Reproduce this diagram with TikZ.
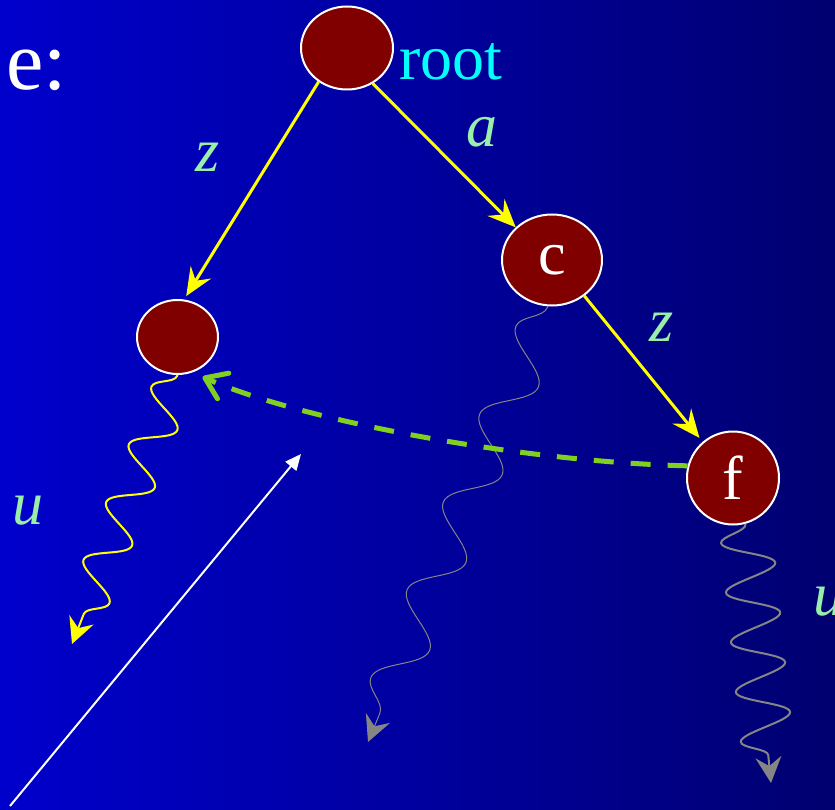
\documentclass[tikz,border=0pt]{standalone}
\usepackage{fontspec}
\setmainfont{Liberation Serif}
\usepackage{xcolor}
\usetikzlibrary{arrows.meta,shapes.geometric,decorations.pathmorphing}
\definecolor{BgLeft}{HTML}{0000CC}
\definecolor{BgRight}{HTML}{000070}
\definecolor{StateRed}{HTML}{800000}
\definecolor{EdgeYellow}{HTML}{FFFF00}
\definecolor{SymGreen}{HTML}{99EEAA}
\definecolor{RootCyan}{HTML}{00FFFF}
\definecolor{LinkGreen}{HTML}{80D020}
\definecolor{WalkGrey}{HTML}{858585}
\newcommand{\slidefont}{\fontsize{62}{70}\selectfont}
\tikzset{
  state/.style = {ellipse, draw=white, line width=2pt, fill=StateRed,
                  inner sep=0pt, text=white, font=\slidefont},
  trans/.style = {-{Stealth[length=28pt,width=24pt,inset=10pt]}, draw=EdgeYellow,
                  line width=3pt},
  sym/.style   = {font=\slidefont\itshape, text=SymGreen, inner sep=0pt},
  walk/.style args = {#1/#2}{decorate, decoration={snake, mirror, segment length=#1,
                  amplitude=#2, pre length=1pt, post length=24pt}},
  walktip/.style = {-{Stealth[length=26pt,width=26pt,inset=9pt]}},
  link/.style  = {-{Straight Barb[length=20pt,width=28pt,round]}, draw=LinkGreen,
                  line width=5pt, dash pattern=on 20pt off 17pt},
  ptr/.style   = {-{Triangle[length=16pt,width=14pt]}, draw=white, line width=2pt},
}

\begin{document}
\begin{tikzpicture}[x=1pt, y=-1pt]

  \useasboundingbox (0,0) rectangle (835,810);
  \shade[left color=BgLeft, right color=BgRight] (0,0) rectangle (835,810);

  \node[anchor=base west, text=white, font=\fontsize{84}{90}\selectfont, inner sep=0pt]
    (title) at (6,90) {e:};

  \node[state, minimum width=92pt, minimum height=83pt] (root) at (347,48) {};
  \node[anchor=base west, text=RootCyan, font=\fontsize{64}{70}\selectfont, inner sep=0pt]
    (rootlbl) at (399,80) {root};

  \node[state, minimum width=81pt, minimum height=74pt] (zleaf) at (177.5,337) {};
  \node[state, minimum width=100pt, minimum height=91pt] (cnode) at (552,260) {c};
  \node[state, minimum width=92pt, minimum height=93pt] (fnode) at (733,478) {f};

  \draw[trans, shorten >=4pt] (root.230) -- (zleaf.80);
  \draw[trans] (root.306) -- (cnode.138);
  \draw[trans, shorten >=5pt] (cnode.312) -- (fnode.130);

  \node[sym] (zl) at (208,157) {z};
  \node[sym] (al) at (482,132) {a};
  \node[sym] (zr) at (662,327) {z};
  \node[sym] (ul) at (28,511) {u};
  \node[sym] (ur) at (829,602) {u};

  \coordinate (yend) at (72,644);
  \coordinate (cend) at (368,742);
  \coordinate (fend) at (771,783);
  \draw[walk=62/20, walktip, EdgeYellow, line width=2pt] (zleaf.south) -- (yend);
  \draw[walk=95/22, walktip, WalkGrey, line width=1pt] (cnode.265) -- (cend);
  \draw[walk=50/26, walktip, WalkGrey, line width=2pt] (fnode.285) -- (fend);

  \draw[link, shorten >=11pt] (fnode.165) .. controls (520,462) and (300,420) .. (zleaf.293);

  \coordinate (pstart) at (10,806);
  \coordinate (pend) at (301,454);
  \draw[ptr] (pstart) -- (pend);

\end{tikzpicture}
\end{document}
